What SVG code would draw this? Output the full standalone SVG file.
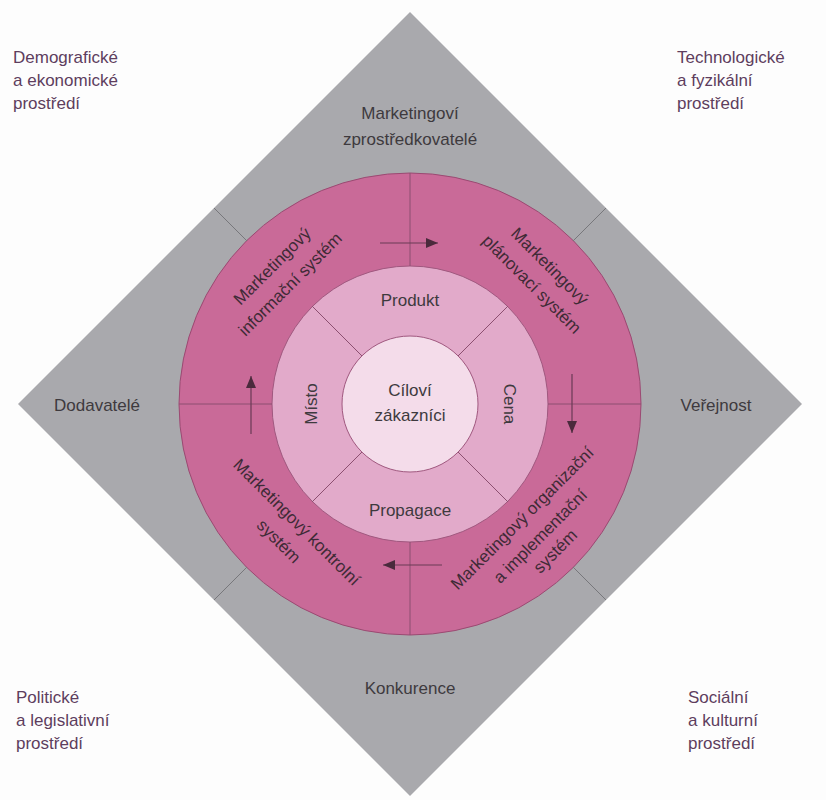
<svg xmlns="http://www.w3.org/2000/svg" width="826" height="800" viewBox="0 0 826 800">
<defs>
<style>
text{font-family:"Liberation Sans",Arial,sans-serif;font-size:17px;fill:#3e3a3e;text-anchor:middle}
.corner{fill:#5e3e5e;text-anchor:start}
.ring{fill:#3f2a36}
.div{stroke:#8c4f70;stroke-width:1;fill:none}
.gdiv{stroke:#77777b;stroke-width:1;fill:none}
.arr{stroke:#6a3a55;stroke-width:1.2;fill:none;marker-end:url(#ah)}
</style>
<marker id="ah" viewBox="0 0 12 10" refX="12" refY="5" markerWidth="12" markerHeight="10" markerUnits="userSpaceOnUse" orient="auto">
<path d="M0,0 L12,5 L0,10 Z" fill="#4a2a3c"/>
</marker>
</defs>
<rect width="826" height="800" fill="#fdfdfd"/>

<g id="environment">
<path d="M410,12 L802,404 L410,796 L18,404 Z" fill="#a9a9ad"/>
</g>

<g id="outer-ring">
<circle cx="410" cy="404" r="231" fill="#c96a98" stroke="#9a4a72" stroke-width="1"/>
</g>
<g id="mix-ring">
<circle cx="410" cy="404" r="138" fill="#e2aaca" stroke="#a0587f" stroke-width="1"/>
</g>
<g id="customers">
<circle cx="410" cy="404" r="68" fill="#f4dcea" stroke="#a0587f" stroke-width="1"/>
<text x="410" y="396">Cíloví</text>
<text x="410" y="421">zákazníci</text>
</g>

<g id="connectors">
<line class="div" x1="410" y1="173" x2="410" y2="266"/>
<line class="div" x1="410" y1="542" x2="410" y2="635"/>
<line class="div" x1="179" y1="404" x2="272" y2="404"/>
<line class="div" x1="548" y1="404" x2="641" y2="404"/>
<line class="div" x1="312" y1="306" x2="362" y2="356"/>
<line class="div" x1="508" y1="306" x2="458" y2="356"/>
<line class="div" x1="312" y1="502" x2="362" y2="452"/>
<line class="div" x1="508" y1="502" x2="458" y2="452"/>
<line class="gdiv" x1="247" y1="241" x2="214" y2="208"/>
<line class="gdiv" x1="573" y1="241" x2="606" y2="208"/>
<line class="gdiv" x1="247" y1="567" x2="214" y2="600"/>
<line class="gdiv" x1="573" y1="567" x2="606" y2="600"/>
<line class="arr" x1="380" y1="243" x2="438" y2="243"/>
<line class="arr" x1="572" y1="374" x2="572" y2="433"/>
<line class="arr" x1="442" y1="565" x2="383" y2="565"/>
<line class="arr" x1="251" y1="434" x2="251" y2="376"/>
</g>

<g id="produkt"><text x="410" y="306">Produkt</text></g>
<g id="propagace"><text x="410" y="516">Propagace</text></g>
<g id="misto"><text transform="translate(311,404) rotate(-90)" y="6">Místo</text></g>
<g id="cena"><text transform="translate(510,404) rotate(90)" y="6">Cena</text></g>

<g id="mis" class="ring">
<text class="ring" transform="translate(272,266) rotate(-45)" y="6">Marketingový</text>
<text class="ring" transform="translate(290,284) rotate(-45)" y="6">informační systém</text>
</g>
<g id="mps">
<text class="ring" transform="translate(550,266) rotate(45)" y="6">Marketingový</text>
<text class="ring" transform="translate(532,284) rotate(45)" y="6">plánovací systém</text>
</g>
<g id="mois">
<text class="ring" transform="translate(522,518) rotate(-45)" y="6">Marketingový organizační</text>
<text class="ring" transform="translate(540,536) rotate(-45)" y="6">a implementační</text>
<text class="ring" transform="translate(555,551) rotate(-45)" y="6">systém</text>
</g>
<g id="mks">
<text class="ring" transform="translate(297,522) rotate(45)" y="6">Marketingový kontrolní</text>
<text class="ring" transform="translate(279,541) rotate(45)" y="6">systém</text>
</g>

<g id="zprostredkovatele">
<text x="410" y="119">Marketingoví</text>
<text x="410" y="145">zprostředkovatelé</text>
</g>
<g id="dodavatele"><text x="97" y="411">Dodavatelé</text></g>
<g id="verejnost"><text x="716" y="411">Veřejnost</text></g>
<g id="konkurence"><text x="410" y="694">Konkurence</text></g>

<g id="demograficke">
<text class="corner" x="13" y="63">Demografické</text>
<text class="corner" x="13" y="86">a ekonomické</text>
<text class="corner" x="13" y="109">prostředí</text>
</g>
<g id="technologicke">
<text class="corner" x="677" y="63">Technologické</text>
<text class="corner" x="677" y="86">a fyzikální</text>
<text class="corner" x="677" y="109">prostředí</text>
</g>
<g id="politicke">
<text class="corner" x="16" y="703">Politické</text>
<text class="corner" x="16" y="726">a legislativní</text>
<text class="corner" x="16" y="749">prostředí</text>
</g>
<g id="socialni">
<text class="corner" x="688" y="703">Sociální</text>
<text class="corner" x="688" y="726">a kulturní</text>
<text class="corner" x="688" y="749">prostředí</text>
</g>
</svg>
